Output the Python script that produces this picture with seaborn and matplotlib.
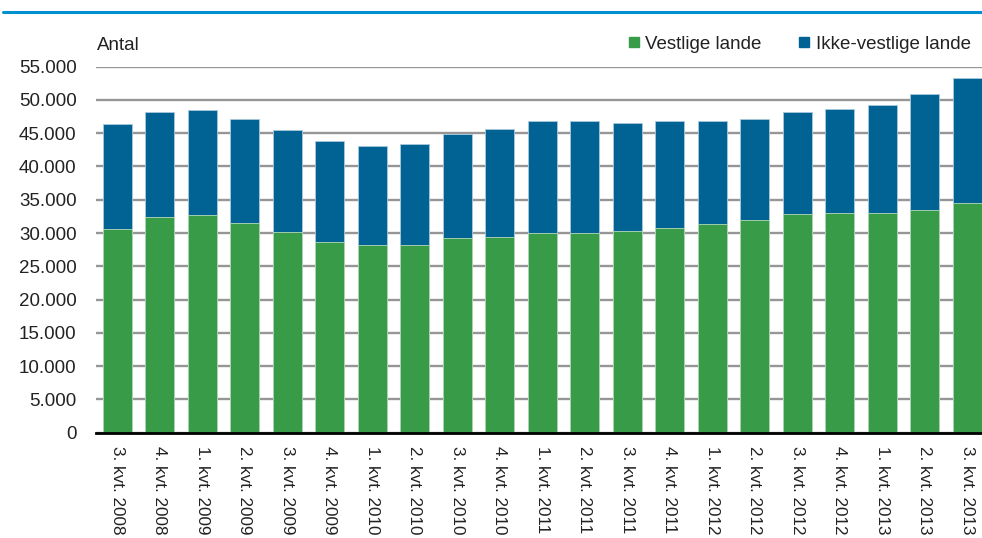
import numpy as np
import pandas as pd
import seaborn as sns
import matplotlib.pyplot as plt
import matplotlib.ticker as ticker
from matplotlib.lines import Line2D

GREEN = "#379b48"
BLUE = "#006394"
GRID = "#969696"
TXT = "#222222"
FS = 13.5

quarters = [
    "3. kvt. 2008", "4. kvt. 2008", "1. kvt. 2009", "2. kvt. 2009",
    "3. kvt. 2009", "4. kvt. 2009", "1. kvt. 2010", "2. kvt. 2010",
    "3. kvt. 2010", "4. kvt. 2010", "1. kvt. 2011", "2. kvt. 2011",
    "3. kvt. 2011", "4. kvt. 2011", "1. kvt. 2012", "2. kvt. 2012",
    "3. kvt. 2012", "4. kvt. 2012", "1. kvt. 2013", "2. kvt. 2013",
    "3. kvt. 2013",
]
vestlige = [
    30550, 32400, 32700, 31500, 30150, 28600, 28150, 28150, 29200, 29350,
    30000, 30000, 30300, 30700, 31350, 32000, 32850, 33000, 32950, 33400,
    34500,
]
ikke_vestlige = [
    15800, 15800, 15850, 15600, 15350, 15200, 15000, 15300, 15750, 16350,
    16900, 16800, 16300, 16100, 15550, 15200, 15350, 15700, 16250, 17500,
    18850,
]
y_ticks = list(range(0, 55001, 5000))

sns.set_theme(style="white")
plt.rcParams["font.family"] = ["Liberation Sans Narrow", "Liberation Sans", "DejaVu Sans"]
plt.rcParams["text.color"] = TXT

df = pd.DataFrame({
    "kvartal": quarters,
    "vestlige": vestlige,
    "ikke": ikke_vestlige,
})
df["total"] = df["vestlige"] + df["ikke"]

fig = plt.figure(figsize=(9.82, 5.38), dpi=100)
ax = fig.add_axes([96 / 982, 105.4 / 538, 892.5 / 982, 365.9 / 538])

# stacked look: total in blue, western share drawn over it in green
sns.barplot(data=df, x="kvartal", y="total", color=BLUE, width=0.675,
            edgecolor="#a9c9dc", linewidth=0.6, saturation=1, ax=ax)
sns.barplot(data=df, x="kvartal", y="vestlige", color=GREEN, width=0.675,
            edgecolor="#b5d9bb", linewidth=0.6, saturation=1, ax=ax)

ax.set_ylim(0, 55000)
ax.set_yticks(y_ticks)
ax.yaxis.set_major_formatter(
    ticker.FuncFormatter(lambda v, _: f"{int(v):,}".replace(",", "."))
)
ax.grid(True, axis="y", color=GRID, linewidth=1.7)
ax.set_axisbelow(True)
for s in ("left", "right", "top"):
    ax.spines[s].set_visible(False)
ax.spines["bottom"].set_color("#000000")
ax.spines["bottom"].set_linewidth(2)
ax.spines["bottom"].set_zorder(5)

ax.tick_params(axis="y", length=0, pad=14, labelsize=FS, labelcolor=TXT)
ax.tick_params(axis="x", length=0, pad=10, labelsize=12.3, labelcolor=TXT)
for lab in ax.get_xticklabels():
    lab.set_rotation(270)
    lab.set_va("top")
    lab.set_ha("center")
ax.set_xlabel("")
ax.set_ylabel("")

fig.text(97 / 982, 1 - 45 / 538, "Antal", fontsize=FS, ha="left", va="center")

handles = [
    Line2D([], [], marker="s", linestyle="none", markersize=7,
           markerfacecolor=GREEN, markeredgecolor=GREEN, label="Vestlige lande"),
    Line2D([], [], marker="s", linestyle="none", markersize=7,
           markerfacecolor=BLUE, markeredgecolor=BLUE, label="Ikke-vestlige lande"),
]
fig.legend(handles=handles, loc="center right", bbox_to_anchor=(978 / 982, 1 - 44 / 538),
           ncol=2, frameon=False, fontsize=FS, handlelength=0.6, handletextpad=0.3,
           columnspacing=2.0, borderaxespad=0)

# blue rule under the (cropped) heading
fig.add_artist(Line2D([3 / 982, 1], [1 - 12 / 538] * 2, color="#0090d0", linewidth=2.2))

fig.savefig("out.png", dpi=100)
